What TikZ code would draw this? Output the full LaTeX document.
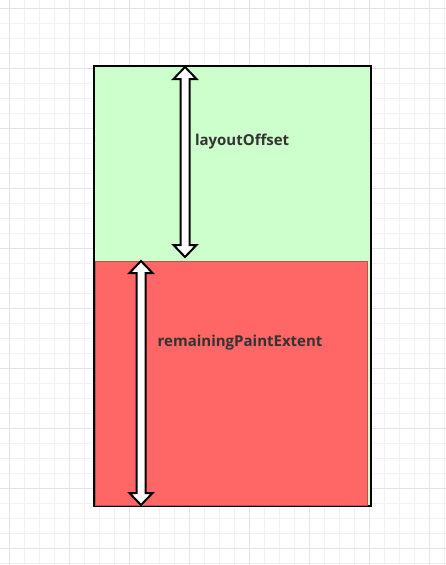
\documentclass[tikz,border=0pt]{standalone}
\usepackage{fontspec}
\usetikzlibrary{calc}
\setmainfont{Open Sans}
\definecolor{gridminor}{HTML}{F1F1F1}
\definecolor{gridmajor}{HTML}{E3E3E3}
\definecolor{greenfill}{HTML}{CCFFCC}
\definecolor{redfill}{HTML}{FF6666}
\definecolor{redstroke}{HTML}{B85450}
\definecolor{labeltext}{HTML}{333333}
\begin{document}
\begin{tikzpicture}[x=1pt,y=-1pt,
  gridline/.style={gridminor,line width=0.8pt},
  gridmaj/.style={gridmajor,line width=0.8pt},
  greenbox/.style={draw=black,fill=greenfill,line width=2pt,outer sep=0pt,inner sep=0pt},
  redbox/.style={draw=redstroke,fill=redfill,line width=1.3pt,outer sep=0pt,inner sep=0pt},
  blockarrow/.style={draw=black,fill=white,line width=2pt,line join=miter},
  lbl/.style={inner sep=0pt,anchor=base west,text=labeltext,font=\bfseries\fontsize{15}{18}\selectfont}]
\useasboundingbox (0,0) rectangle (446,565);
\fill[white] (0,0) rectangle (446,565);
% grid
\foreach \i in {0,...,29} {
  \pgfmathsetmacro\xx{9.3+15*\i}
  \draw[gridline] (\xx,0) -- (\xx,565);
}
\foreach \i in {0,...,37} {
  \pgfmathsetmacro\yy{8.3+15*\i}
  \draw[gridline] (0,\yy) -- (446,\yy);
}
\foreach \i in {0,...,7} {
  \pgfmathsetmacro\xx{9.3+60*\i}
  \draw[gridmaj] (\xx,0) -- (\xx,565);
}
\foreach \i in {0,...,9} {
  \pgfmathsetmacro\yy{8.3+60*\i}
  \draw[gridmaj] (0,\yy) -- (446,\yy);
}
% boxes
\node[greenbox,minimum width=276.8pt,minimum height=439.5pt,anchor=north west] (outer) at (93.7,66) {};
\node[redbox,minimum width=272pt,minimum height=244pt,anchor=north west] (inner) at (95.5,261.3) {};
% arrows
\coordinate (a1top) at (185,67);
\coordinate (a1bot) at (185,257);
\draw[blockarrow] (a1top) -- ++(11.5,12) -- ++(-7,0) -- ($(a1bot)+(4.5,-12)$) -- ++(7,0) -- (a1bot) -- ++(-11.5,-12) -- ++(7,0) -- ($(a1top)+(-4.5,12)$) -- ++(-7,0) -- cycle;
\coordinate (a2top) at (141,261);
\coordinate (a2bot) at (141,505);
\draw[blockarrow] (a2top) -- ++(11.5,12) -- ++(-7,0) -- ($(a2bot)+(4.5,-12)$) -- ++(7,0) -- (a2bot) -- ++(-11.5,-12) -- ++(7,0) -- ($(a2top)+(-4.5,12)$) -- ++(-7,0) -- cycle;
% labels
\node[lbl] (l1) at (194.8,145) {layoutOffset};
\node[lbl] (l2) at (157.5,346.5) {remainingPaintExtent};
\end{tikzpicture}
\end{document}
